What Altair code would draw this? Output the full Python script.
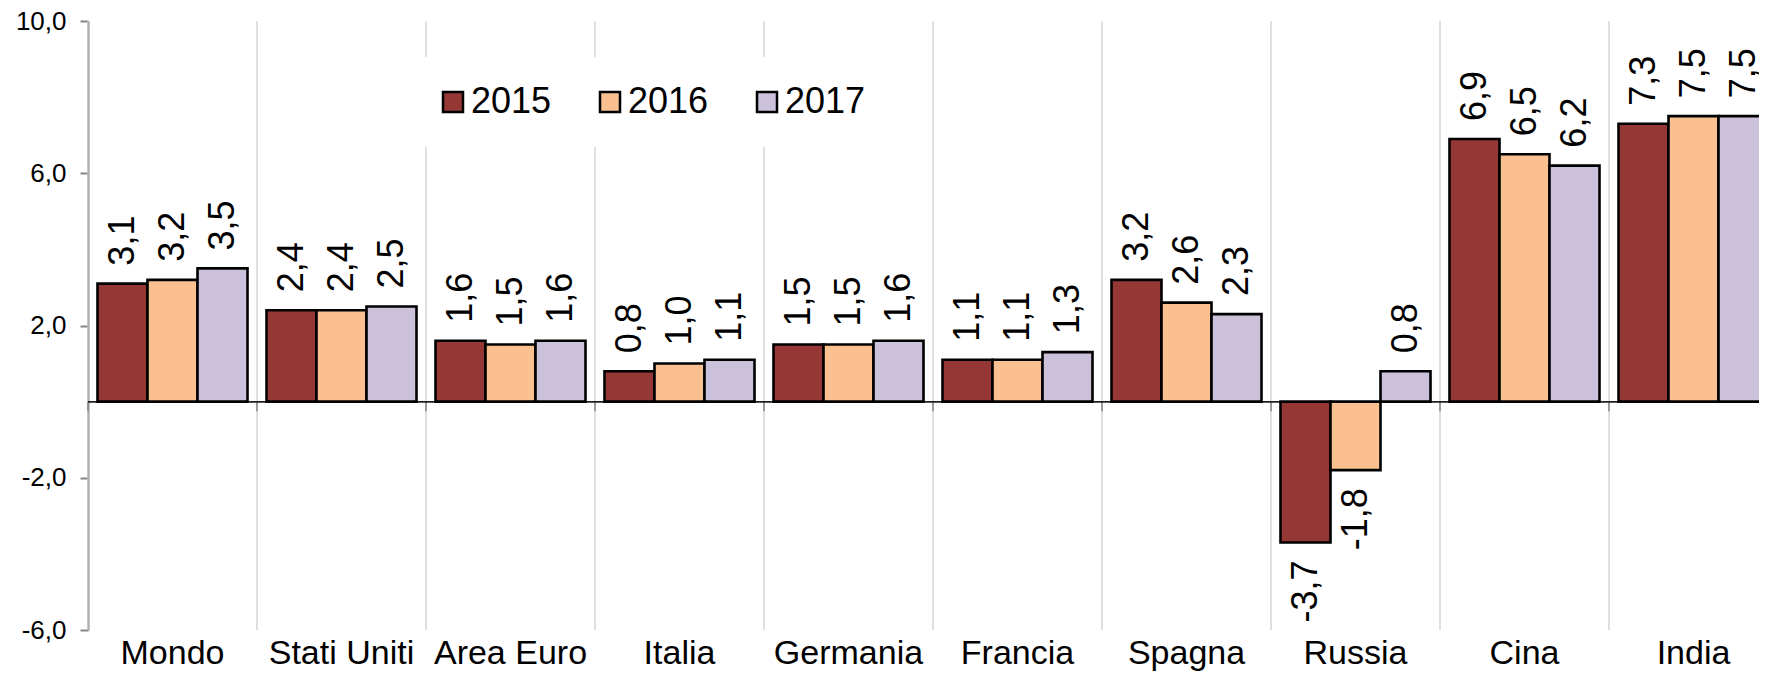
import altair as alt
import pandas as pd

categories = ["Mondo", "Stati Uniti", "Area Euro", "Italia", "Germania",
              "Francia", "Spagna", "Russia", "Cina", "India"]
years = ["2015", "2016", "2017"]
v2015 = [3.1, 2.4, 1.6, 0.8, 1.5, 1.1, 3.2, -3.7, 6.9, 7.3]
v2016 = [3.2, 2.4, 1.5, 1.0, 1.5, 1.1, 2.6, -1.8, 6.5, 7.5]
v2017 = [3.5, 2.5, 1.6, 1.1, 1.6, 1.3, 2.3, 0.8, 6.2, 7.5]
colors = ["#953735", "#FAC090", "#CCC1DA"]
y_ticks = [-6, -2, 2, 6, 10]

rows = []
for yr, vals in zip(years, [v2015, v2016, v2017]):
    for c, v in zip(categories, vals):
        rows.append({"paese": c, "anno": yr, "valore": v,
                     "etichetta": f"{v:.1f}".replace(".", ",")})
df = pd.DataFrame(rows)
cat_df = pd.DataFrame({"paese": categories})

FONT = "Liberation Sans"
x_scale = alt.Scale(domain=categories, range=[0, 1690], paddingInner=0, paddingOuter=0)
y_scale = alt.Scale(domain=[-6, 10], nice=False)
off_scale = alt.Scale(domain=years, paddingInner=0, paddingOuter=0.19)

x_axis = alt.Axis(title=None, labelFontSize=34, labelFont=FONT, labelColor="black",
                  labelPadding=6, ticks=False, domain=False, grid=False, labelAngle=0)
y_axis = alt.Axis(title=None, values=y_ticks, grid=False, domainColor="#868686",
                  domainWidth=2, tickColor="#868686", tickWidth=2, tickSize=8,
                  labelFontSize=26, labelFont=FONT, labelColor="black", labelPadding=14,
                  labelExpr="replace(replace(format(datum.value, '.1f'), '.', ','), '\u2212', '-')")

x_plain = alt.X("paese:N", scale=x_scale, sort=categories, axis=x_axis)
x_edge = alt.X("paese:N", scale=x_scale, sort=categories, axis=x_axis, bandPosition=0)

grid = alt.Chart(cat_df).mark_rule(color="#cccccc", strokeWidth=1.2).encode(
    x=x_edge, y=alt.Y(datum=10, scale=y_scale, axis=y_axis), y2=alt.datum(-6)
)
xticks = alt.Chart(cat_df).mark_rule(color="#868686", strokeWidth=1.5).encode(
    x=x_edge, y=alt.Y(datum=0, scale=y_scale, axis=y_axis), y2=alt.datum(-0.25)
)
zero = alt.Chart(cat_df).mark_rule(color="#222222", strokeWidth=1).encode(
    x=alt.value(0), x2=alt.value(1690), y=alt.Y(datum=0, scale=y_scale, axis=y_axis)
)

bars = alt.Chart(df).mark_bar(stroke="black", strokeWidth=2.6).encode(
    x=x_plain,
    xOffset=alt.XOffset("anno:N", scale=off_scale),
    y=alt.Y("valore:Q", scale=y_scale, axis=y_axis),
    color=alt.Color("anno:N", scale=alt.Scale(domain=years, range=colors),
                    legend=alt.Legend(title=None, orient="none", legendX=320, legendY=36,
                                      direction="horizontal", fillColor="white", padding=27,
                                      symbolType="square", symbolSize=400,
                                      symbolStrokeColor="black", symbolStrokeWidth=2.5,
                                      symbolOpacity=1, labelFontSize=36, labelFont=FONT,
                                      labelColor="black", labelOffset=0, columnPadding=40)),
)

txt_common = dict(angle=270, baseline="middle", fontSize=36, font=FONT, color="black")
enc = dict(x=x_plain, xOffset=alt.XOffset("anno:N", scale=off_scale),
           y=alt.Y("valore:Q", scale=y_scale, axis=y_axis), text="etichetta:N")
pos_labels = alt.Chart(df).transform_filter("datum.valore >= 0").mark_text(
    align="left", dx=18, **txt_common).encode(**enc)
neg_labels = alt.Chart(df).transform_filter("datum.valore < 0").mark_text(
    align="right", dx=-18, **txt_common).encode(**enc)

chart = alt.layer(grid, xticks, zero, bars, pos_labels, neg_labels).properties(
    width=1671, height=609,
    autosize=alt.AutoSizeParams(type="none"),
    padding={"left": 80, "top": 13, "right": 0, "bottom": 44},
).configure_view(stroke=None)

chart.save("out.html", embed_options={"renderer": "svg", "actions": False})
